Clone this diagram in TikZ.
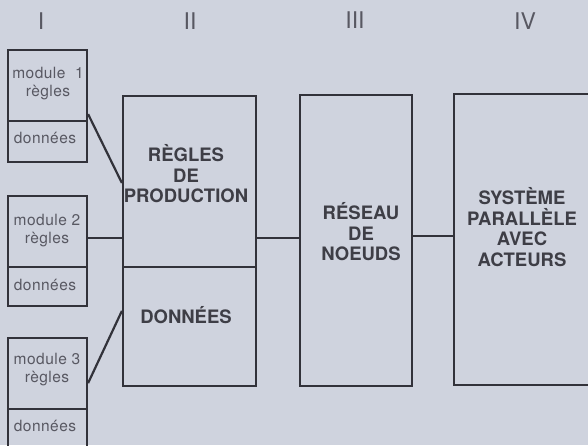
\documentclass[tikz,border=0pt]{standalone}
\usepackage{fontspec}
\setmainfont{TeX Gyre Heros}
\usetikzlibrary{calc}
\definecolor{bg}{RGB}{207,211,222}
\definecolor{ink}{RGB}{50,50,58}
\definecolor{txt}{RGB}{62,62,70}
\definecolor{soft}{RGB}{88,88,98}
\begin{document}
\begin{tikzpicture}[x=1pt,y=-1pt,
  box/.style={draw=ink,line width=2.2pt,rectangle,inner sep=0pt,anchor=center},
  small/.style={text=soft,font=\fontsize{15.5}{18}\selectfont\addfontfeature{LetterSpace=3},inner sep=0pt,align=center},
  big/.style={text=txt,font=\fontsize{18.5}{20.5}\selectfont\bfseries,inner sep=0pt,align=center},
  head/.style={text=soft,font=\fontsize{23}{24}\selectfont,inner sep=0pt},
  link/.style={draw=ink,line width=2.2pt}]
\useasboundingbox (0,0) rectangle (588,445);
\fill[bg] (0,0) rectangle (588,445);
\clip (0,0) rectangle (588,445);
% headers
\node[head] (hI) at (41,21) {I};
\node[head] (hII) at (190,21) {II};
\node[head] (hIII) at (355,20) {III};
\node[head] (hIV) at (525,21) {IV};
% column I
\node[box,minimum width=79pt,minimum height=71pt] (m1r) at (47.5,85.5) {};
\node[box,minimum width=79pt,minimum height=41pt] (m1d) at (47.5,141.5) {};
\node[box,minimum width=79pt,minimum height=71pt] (m2r) at (47.5,231.5) {};
\node[box,minimum width=79pt,minimum height=39pt] (m2d) at (47.5,286.5) {};
\node[box,minimum width=79pt,minimum height=71pt] (m3r) at (47.5,373.5) {};
\node[box,minimum width=79pt,minimum height=71pt] (m3d) at (47.5,444.5) {};
\node[small] (t1) at (48,84) {module\ \ 1\\règles};
\node[small] (t1d) at (45,138) {données};
\node[small] (t2) at (47,230.5) {module 2\\règles};
\node[small] (t2d) at (45,285) {données};
\node[small] (t3) at (47,369.5) {module 3\\règles};
\node[small] (t3d) at (45,426) {données};
% column II
\node[box,minimum width=133pt,minimum height=171pt] (P) at (189.5,181.5) {};
\node[box,minimum width=133pt,minimum height=119pt] (D) at (189.5,326.5) {};
\node[big] (tP) at (186,174) {RÈGLES\\DE\\PRODUCTION};
\node[big] (tD) at (186,315) {DONNÉES};
% column III
\node[box,minimum width=112pt,minimum height=291pt] (R) at (356,240.5) {};
\node[big] (tR) at (361,232) {RÉSEAU\\DE\\NOEUDS};
% column IV
\node[box,minimum width=166pt,minimum height=291pt] (S) at (537,239.5) {};
\node[big] (tS) at (522,227) {SYSTÈME\\PARALLÈLE\\AVEC\\ACTEURS};
% connectors
\coordinate (h2) at (0,238);
\coordinate (h3) at (0,236);
\draw[link] ($(m1r.south east)+(0,-8)$) -- ($(P.west)+(0,1.5)$);
\draw[link] (m2r.east |- h2) -- (P.west |- h2);
\draw[link] ($(m3r.south east)+(0,-27)$) -- ($(D.north west)+(0,45)$);
\draw[link] (P.east |- h2) -- (R.west |- h2);
\draw[link] (R.east |- h3) -- (S.west |- h3);
\end{tikzpicture}
\end{document}
